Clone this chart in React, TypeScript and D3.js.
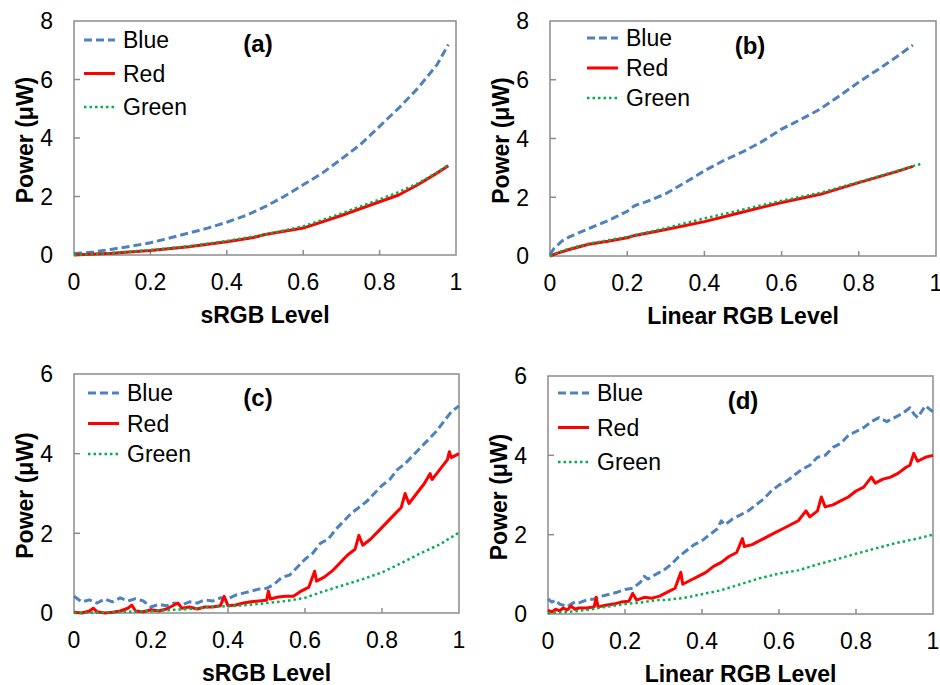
import * as d3 from 'd3'
import { useEffect, useRef } from 'react'

type Pt = [number, number]

// (a) power vs sRGB level, smooth
const aBlue: Pt[] = [[0, 0.05], [0.05, 0.1], [0.1, 0.2], [0.15, 0.3], [0.2, 0.42], [0.25, 0.58], [0.3, 0.75], [0.35, 0.92], [0.4, 1.12], [0.45, 1.35], [0.5, 1.65], [0.55, 2.0], [0.6, 2.4], [0.65, 2.8], [0.7, 3.28], [0.75, 3.78], [0.8, 4.4], [0.85, 5.02], [0.9, 5.7], [0.95, 6.5], [0.98, 7.2]]
const aRed: Pt[] = [[0, 0], [0.1, 0.06], [0.2, 0.15], [0.3, 0.28], [0.4, 0.45], [0.47, 0.6], [0.5, 0.7], [0.6, 0.92], [0.7, 1.35], [0.8, 1.82], [0.85, 2.05], [0.9, 2.4], [0.95, 2.8], [0.98, 3.05]]
const aGreen: Pt[] = [[0, 0], [0.1, 0.07], [0.2, 0.17], [0.3, 0.3], [0.4, 0.48], [0.5, 0.7], [0.6, 0.98], [0.7, 1.42], [0.8, 1.9], [0.85, 2.15], [0.9, 2.45], [0.95, 2.82], [0.98, 3.08]]

// (b) power vs linear RGB level, smooth
const bBlue: Pt[] = [[0, 0.05], [0.01, 0.25], [0.03, 0.5], [0.05, 0.65], [0.08, 0.82], [0.1, 0.93], [0.15, 1.2], [0.2, 1.52], [0.22, 1.72], [0.25, 1.85], [0.3, 2.12], [0.35, 2.5], [0.4, 2.9], [0.45, 3.25], [0.5, 3.55], [0.55, 3.9], [0.6, 4.32], [0.65, 4.65], [0.7, 5.0], [0.75, 5.45], [0.8, 5.92], [0.85, 6.35], [0.9, 6.8], [0.94, 7.18]]
const bRed: Pt[] = [[0, 0], [0.02, 0.1], [0.05, 0.22], [0.1, 0.4], [0.15, 0.5], [0.2, 0.62], [0.22, 0.7], [0.3, 0.9], [0.4, 1.17], [0.5, 1.5], [0.6, 1.82], [0.7, 2.1], [0.8, 2.5], [0.9, 2.88], [0.94, 3.05]]
const bGreen: Pt[] = [[0, 0], [0.02, 0.12], [0.05, 0.25], [0.1, 0.42], [0.2, 0.65], [0.3, 0.95], [0.4, 1.28], [0.5, 1.58], [0.6, 1.88], [0.7, 2.15], [0.8, 2.52], [0.9, 2.9], [0.964, 3.15]]

// (c) measured, sRGB level, noisy
const cBlue: Pt[] = [[0, 0.42], [0.02, 0.28], [0.04, 0.33], [0.06, 0.25], [0.08, 0.35], [0.1, 0.28], [0.12, 0.38], [0.14, 0.3], [0.16, 0.36], [0.18, 0.3], [0.2, 0.15], [0.22, 0.22], [0.24, 0.18], [0.26, 0.25], [0.28, 0.2], [0.3, 0.28], [0.32, 0.25], [0.34, 0.33], [0.36, 0.3], [0.38, 0.38], [0.4, 0.36], [0.42, 0.45], [0.44, 0.5], [0.46, 0.55], [0.48, 0.6], [0.5, 0.62], [0.52, 0.72], [0.54, 0.9], [0.56, 0.95], [0.58, 1.15], [0.6, 1.35], [0.62, 1.5], [0.64, 1.75], [0.66, 1.85], [0.68, 2.1], [0.7, 2.3], [0.72, 2.5], [0.74, 2.65], [0.76, 2.8], [0.78, 3.0], [0.8, 3.2], [0.82, 3.35], [0.84, 3.6], [0.86, 3.75], [0.88, 3.95], [0.9, 4.15], [0.92, 4.35], [0.94, 4.55], [0.96, 4.8], [0.98, 5.05], [1.0, 5.2]]
const cRed: Pt[] = [[0, 0.02], [0.02, 0.0], [0.04, 0.05], [0.05, 0.12], [0.06, 0.03], [0.08, 0.0], [0.1, 0.02], [0.12, 0.05], [0.14, 0.12], [0.15, 0.2], [0.16, 0.05], [0.18, 0.03], [0.2, 0.08], [0.22, 0.05], [0.24, 0.1], [0.26, 0.2], [0.27, 0.25], [0.28, 0.12], [0.3, 0.15], [0.32, 0.1], [0.34, 0.15], [0.36, 0.15], [0.38, 0.18], [0.39, 0.42], [0.4, 0.18], [0.42, 0.2], [0.44, 0.25], [0.46, 0.28], [0.48, 0.3], [0.5, 0.32], [0.505, 0.55], [0.51, 0.35], [0.53, 0.4], [0.55, 0.42], [0.57, 0.42], [0.59, 0.55], [0.61, 0.65], [0.625, 1.05], [0.63, 0.8], [0.65, 0.9], [0.67, 1.05], [0.69, 1.25], [0.71, 1.45], [0.73, 1.6], [0.74, 1.95], [0.75, 1.7], [0.77, 1.85], [0.79, 2.05], [0.81, 2.25], [0.83, 2.45], [0.85, 2.65], [0.86, 3.0], [0.87, 2.75], [0.89, 3.0], [0.91, 3.25], [0.925, 3.5], [0.93, 3.35], [0.95, 3.6], [0.97, 3.85], [0.975, 4.05], [0.98, 3.9], [1.0, 4.0]]
const cGreen: Pt[] = [[0, 0], [0.1, 0.02], [0.2, 0.05], [0.3, 0.1], [0.35, 0.15], [0.4, 0.17], [0.45, 0.2], [0.5, 0.25], [0.55, 0.3], [0.6, 0.38], [0.62, 0.45], [0.65, 0.55], [0.7, 0.7], [0.75, 0.85], [0.8, 1.02], [0.85, 1.25], [0.9, 1.5], [0.95, 1.72], [1.0, 2.02]]

// (d) measured, linear RGB level, noisy
const dBlue: Pt[] = [[0, 0.38], [0.01, 0.3], [0.02, 0.35], [0.03, 0.25], [0.04, 0.22], [0.05, 0.18], [0.06, 0.25], [0.07, 0.3], [0.08, 0.28], [0.1, 0.35], [0.12, 0.38], [0.14, 0.45], [0.16, 0.5], [0.18, 0.55], [0.2, 0.62], [0.22, 0.65], [0.24, 0.8], [0.25, 0.95], [0.26, 0.88], [0.28, 1.0], [0.3, 1.1], [0.32, 1.25], [0.34, 1.45], [0.36, 1.6], [0.38, 1.75], [0.4, 1.85], [0.42, 2.0], [0.44, 2.15], [0.45, 2.35], [0.46, 2.25], [0.48, 2.4], [0.5, 2.5], [0.52, 2.6], [0.54, 2.75], [0.56, 2.9], [0.58, 3.1], [0.6, 3.25], [0.62, 3.35], [0.64, 3.5], [0.66, 3.65], [0.68, 3.75], [0.7, 3.95], [0.72, 4.0], [0.74, 4.2], [0.76, 4.3], [0.78, 4.5], [0.8, 4.6], [0.82, 4.7], [0.84, 4.85], [0.86, 4.95], [0.88, 4.85], [0.9, 4.95], [0.92, 5.05], [0.94, 5.2], [0.95, 5.05], [0.96, 4.95], [0.98, 5.25], [1.0, 5.1]]
const dRed: Pt[] = [[0, 0.1], [0.01, 0.05], [0.02, 0.12], [0.03, 0.08], [0.04, 0.15], [0.05, 0.1], [0.06, 0.2], [0.07, 0.12], [0.08, 0.15], [0.1, 0.15], [0.12, 0.18], [0.125, 0.42], [0.13, 0.18], [0.15, 0.22], [0.17, 0.25], [0.19, 0.3], [0.21, 0.32], [0.22, 0.52], [0.23, 0.35], [0.25, 0.42], [0.27, 0.4], [0.29, 0.45], [0.31, 0.55], [0.33, 0.65], [0.345, 1.05], [0.35, 0.75], [0.37, 0.85], [0.39, 0.95], [0.41, 1.05], [0.43, 1.2], [0.45, 1.3], [0.47, 1.45], [0.49, 1.55], [0.505, 1.9], [0.51, 1.7], [0.53, 1.75], [0.55, 1.85], [0.57, 1.95], [0.59, 2.05], [0.61, 2.15], [0.63, 2.25], [0.65, 2.35], [0.67, 2.6], [0.68, 2.45], [0.7, 2.6], [0.71, 2.95], [0.72, 2.7], [0.74, 2.75], [0.76, 2.85], [0.78, 2.95], [0.8, 3.1], [0.82, 3.2], [0.84, 3.45], [0.85, 3.3], [0.87, 3.4], [0.89, 3.45], [0.91, 3.55], [0.93, 3.7], [0.94, 3.75], [0.95, 4.05], [0.96, 3.85], [0.98, 3.95], [1.0, 4.0]]
const dGreen: Pt[] = [[0, 0.02], [0.05, 0.05], [0.1, 0.1], [0.15, 0.18], [0.2, 0.25], [0.25, 0.3], [0.28, 0.35], [0.3, 0.35], [0.35, 0.4], [0.4, 0.5], [0.45, 0.6], [0.5, 0.75], [0.55, 0.9], [0.6, 1.02], [0.65, 1.1], [0.7, 1.25], [0.75, 1.38], [0.8, 1.52], [0.85, 1.65], [0.9, 1.78], [0.95, 1.88], [1.0, 2.0]]

const seriesNames = ['Blue', 'Red', 'Green']
const xTicks = [0, 0.2, 0.4, 0.6, 0.8, 1]
const yTicksTop = [0, 2, 4, 6, 8]
const yTicksBottom = [0, 2, 4, 6]

const styles = [
  { color: '#4f81bd', dash: '8,4', width: 3 },
  { color: '#ff0000', dash: null, width: 3 },
  { color: '#00b050', dash: '2.5,3', width: 2.5 },
]

const font = 'Liberation Sans, Arial, sans-serif'

const panels = [
  { label: '(a)', xTitle: 'sRGB Level', data: [aBlue, aRed, aGreen], yMax: 8, yTicks: yTicksTop,
    box: [74, 21, 456, 255], legend: [84, 40, 33.5], labelPos: [258, 43] },
  { label: '(b)', xTitle: 'Linear RGB Level', data: [bBlue, bRed, bGreen], yMax: 8, yTicks: yTicksTop,
    box: [550, 21, 936, 256], legend: [587, 38, 30], labelPos: [750, 45] },
  { label: '(c)', xTitle: 'sRGB Level', data: [cBlue, cRed, cGreen], yMax: 6, yTicks: yTicksBottom,
    box: [74, 374, 459, 613], legend: [88, 393, 30.5], labelPos: [258, 397] },
  { label: '(d)', xTitle: 'Linear RGB Level', data: [dBlue, dRed, dGreen], yMax: 6, yTicks: yTicksBottom,
    box: [548, 376, 933, 614], legend: [558, 393, 34.5], labelPos: [743, 400] },
]

const draw = (node: SVGSVGElement) => {
  const svg = d3.select(node)
  svg.selectAll('*').remove()

  panels.forEach(p => {
    const [x0, y0, x1, y1] = p.box
    const x = d3.scaleLinear().domain([0, 1]).range([x0, x1])
    const y = d3.scaleLinear().domain([0, p.yMax]).range([y1, y0])
    const g = svg.append('g').attr('font-family', font)

    // frame
    g.append('rect')
      .attr('x', x0).attr('y', y0)
      .attr('width', x1 - x0).attr('height', y1 - y0)
      .attr('fill', 'none').attr('stroke', '#8c8c8c').attr('stroke-width', 1.5)

    // inward ticks
    g.append('g').selectAll('line')
      .data(xTicks.slice(1, -1))
      .join('line')
      .attr('x1', d => x(d)).attr('x2', d => x(d))
      .attr('y1', y1).attr('y2', y1 - 5)
      .attr('stroke', '#8c8c8c').attr('stroke-width', 1.5)
    g.append('g').selectAll('line')
      .data(p.yTicks.slice(1, -1))
      .join('line')
      .attr('x1', x0).attr('x2', x0 + 6)
      .attr('y1', d => y(d)).attr('y2', d => y(d))
      .attr('stroke', '#8c8c8c').attr('stroke-width', 1.5)

    // tick labels
    g.append('g').selectAll('text')
      .data(xTicks)
      .join('text')
      .attr('x', d => x(d)).attr('y', y1 + 35)
      .attr('text-anchor', 'middle')
      .attr('font-size', 23)
      .text(d => String(d))
    g.append('g').selectAll('text')
      .data(p.yTicks)
      .join('text')
      .attr('x', x0 - 21).attr('y', d => y(d))
      .attr('dy', '0.36em')
      .attr('text-anchor', 'end')
      .attr('font-size', 23)
      .text(d => String(d))

    // axis titles
    g.append('text')
      .attr('x', (x0 + x1) / 2).attr('y', y1 + 68)
      .attr('text-anchor', 'middle')
      .attr('font-size', 23).attr('font-weight', 'bold')
      .text(p.xTitle)
    g.append('text')
      .attr('transform', `translate(${x0 - 41},${(y0 + y1) / 2 + 2}) rotate(-90)`)
      .attr('text-anchor', 'middle')
      .attr('font-size', 23).attr('font-weight', 'bold')
      .text('Power (μW)')

    // series
    const line = d3.line<Pt>().x(d => x(d[0])).y(d => y(d[1]))
    p.data.forEach((s, i) => {
      const st = styles[i]
      g.append('path')
        .datum(s)
        .attr('d', line)
        .attr('fill', 'none')
        .attr('stroke', st.color)
        .attr('stroke-width', st.width)
        .attr('stroke-dasharray', st.dash)
        .attr('stroke-linejoin', 'round')
    })

    // legend
    const [lx, ly, step] = p.legend
    seriesNames.forEach((name, i) => {
      const st = styles[i]
      const yy = ly + i * step
      g.append('line')
        .attr('x1', lx).attr('x2', lx + 31)
        .attr('y1', yy).attr('y2', yy)
        .attr('stroke', st.color)
        .attr('stroke-width', st.width)
        .attr('stroke-dasharray', st.dash)
      g.append('text')
        .attr('x', lx + 39).attr('y', yy)
        .attr('dy', '0.36em')
        .attr('font-size', 23)
        .text(name)
    })

    g.append('text')
      .attr('x', p.labelPos[0]).attr('y', p.labelPos[1])
      .attr('dy', '0.36em')
      .attr('text-anchor', 'middle')
      .attr('font-size', 24).attr('font-weight', 'bold')
      .text(p.label)
  })
}

export default function App() {
  const ref = useRef<SVGSVGElement>(null)
  useEffect(() => {
    if (ref.current) draw(ref.current)
  }, [])
  return (
    <svg ref={ref} width={940} height={685}
      style={{ position: 'absolute', left: 0, top: 0, background: '#fff' }} />
  )
}
